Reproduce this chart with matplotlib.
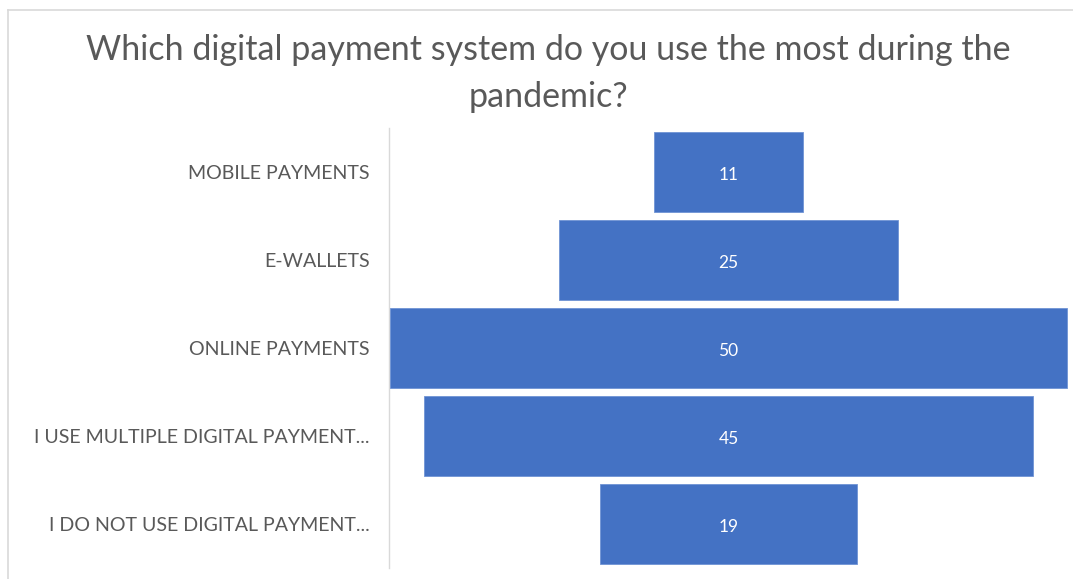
import matplotlib
matplotlib.use("Agg")
import matplotlib.pyplot as plt
from matplotlib.lines import Line2D

categories = [
    "MOBILE PAYMENTS",
    "E-WALLETS",
    "ONLINE PAYMENTS",
    "I USE MULTIPLE DIGITAL PAYMENT...",
    "I DO NOT USE DIGITAL PAYMENT...",
]
counts = [11, 25, 50, 45, 19]

BAR_COLOR = "#4472C4"
TEXT_COLOR = "#595959"
FONT = ["Lato", "DejaVu Sans"]

W, H = 1073, 579
fig = plt.figure(figsize=(W / 100, H / 100), dpi=100)
fig.patch.set_facecolor("white")

ax = fig.add_axes([389 / W, 1 - 568 / H, 679 / W, 440 / H])

# Funnel: each bar centred at zero
ypos = list(range(len(categories)))
lefts = [-c / 2 for c in counts]
ax.barh(ypos, counts, left=lefts, height=0.92, color=BAR_COLOR,
        edgecolor="#6f93d4", linewidth=0.6)

for y, c in zip(ypos, counts):
    ax.text(0, y + 0.03, str(c), ha="center", va="center", color="white",
            fontsize=12.5, family=FONT)

ax.set_xlim(-25.05, 25.05)
ax.set_ylim(len(categories) - 0.5, -0.5)
ax.set_yticks(ypos)
ax.set_yticklabels(categories, color=TEXT_COLOR, fontsize=14.1, family=FONT)
ax.tick_params(axis="y", length=0, pad=14)
ax.set_xticks([])
for side in ["top", "right", "bottom"]:
    ax.spines[side].set_visible(False)
ax.spines["left"].set_color("#d9d9d9")
ax.spines["left"].set_linewidth(1.0)
ax.spines["left"].set_zorder(0)

fig.text(548 / W, 1 - 50 / H, "Which digital payment system do you use the most during the",
         ha="center", va="center", fontsize=24.5, color=TEXT_COLOR, family=FONT)
fig.text(548 / W, 1 - 97 / H, "pandemic?",
         ha="center", va="center", fontsize=24.5, color=TEXT_COLOR, family=FONT)

# Chart-area frame
fig.add_artist(Line2D([8 / W, 1.0], [1 - 10 / H, 1 - 10 / H],
                      transform=fig.transFigure, color="#d9d9d9", linewidth=1.2))
fig.add_artist(Line2D([8 / W, 8 / W], [0.0, 1 - 10 / H],
                      transform=fig.transFigure, color="#d9d9d9", linewidth=1.2))

fig.savefig("out.png", dpi=100, facecolor="white")
